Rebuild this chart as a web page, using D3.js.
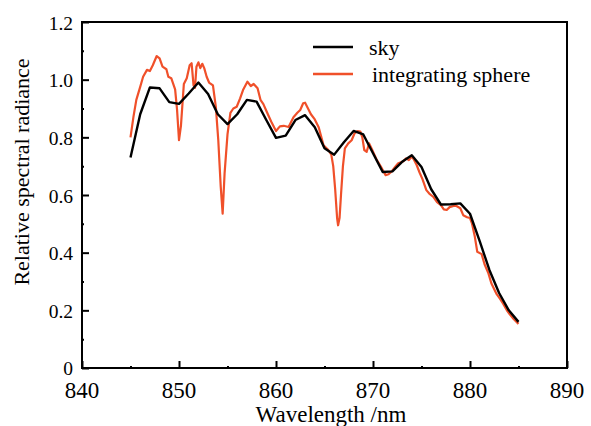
<!DOCTYPE html>
<html>
<head>
<meta charset="utf-8">
<script src="https://cdn.jsdelivr.net/npm/d3@7"></script>
<style>
  html, body { margin: 0; padding: 0; background: #fff; }
  svg { display: block; }
  text { font-family: "Liberation Serif", "DejaVu Serif", serif; fill: #000; }
</style>
</head>
<body>
<svg id="chart" width="591" height="426"></svg>
<script>
// ---- data ----
const xTicks = [840, 850, 860, 870, 880, 890];
const yTicks = [0, 0.2, 0.4, 0.6, 0.8, 1.0, 1.2];
const yTickLabels = ["0", "0.2", "0.4", "0.6", "0.8", "1.0", "1.2"];
const seriesNames = ["sky", "integrating sphere"];

const skyWavelength = [845, 846, 847, 848, 849, 850, 851, 852, 853, 854, 855, 856, 857, 858, 859, 860,
  861, 862, 863, 864, 865, 866, 867, 868, 869, 870, 871, 872, 873, 874, 875, 876, 877, 878, 879, 880,
  881, 882, 883, 884, 885];
const skyValue = [0.73, 0.88, 0.973, 0.97, 0.922, 0.916, 0.952, 0.99, 0.95, 0.88, 0.846, 0.88, 0.93, 0.924, 0.86, 0.798,
  0.806, 0.86, 0.877, 0.835, 0.762, 0.74, 0.783, 0.822, 0.81, 0.745, 0.68, 0.682, 0.715, 0.738, 0.697, 0.62, 0.567, 0.568, 0.571, 0.535,
  0.44, 0.34, 0.26, 0.2, 0.16];

const sphereWavelength = [845.0, 845.3, 845.6, 846.0, 846.3, 846.7, 847.0, 847.3, 847.7, 848.0, 848.3, 848.7, 848.9, 849.2,
  849.6, 849.8, 850.0, 850.2, 850.5, 850.8, 851.1, 851.3, 851.5, 851.65, 851.8, 852.0, 852.2, 852.4, 852.6, 852.85,
  853.1, 853.5, 853.8, 854.05, 854.3, 854.5, 854.7, 855.0, 855.3, 855.6, 855.95, 856.3, 856.6, 857.05, 857.4, 857.7,
  858.1, 858.4, 858.7, 859.0, 859.5, 860.0, 860.4, 860.8, 861.3, 861.8, 862.2, 862.5, 862.8, 863.0, 863.3, 863.6,
  864.0, 864.4, 864.9, 865.4, 865.7, 865.9, 866.1, 866.3, 866.4, 866.55, 866.7, 866.9, 867.1, 867.45, 867.8, 868.1,
  868.4, 868.7, 868.9, 869.1, 869.35, 869.6, 869.9, 870.4, 870.9, 871.3, 871.6, 871.9, 872.3, 872.6, 873.1, 873.4,
  873.7, 874.0, 874.2, 874.5, 874.8, 875.1, 875.5, 875.8, 876.2, 876.6, 877.0, 877.3, 877.6, 877.9, 878.3, 878.6,
  879.0, 879.3, 879.7, 880.0, 880.2, 880.5, 880.75, 881.2, 881.5, 881.9, 882.2, 882.75, 883.1, 883.4, 883.8, 884.1,
  884.5, 885.0];
const sphereValue = [0.80, 0.87, 0.93, 0.975, 1.01, 1.034, 1.03, 1.05, 1.082, 1.074, 1.045, 1.036, 1.01, 1.005,
  0.966, 0.895, 0.79, 0.84, 0.985, 1.005, 1.05, 1.057, 0.98, 0.972, 1.045, 1.06, 1.04, 1.055, 1.04, 1.01,
  0.99, 0.98, 0.905, 0.79, 0.63, 0.535, 0.675, 0.81, 0.885, 0.9, 0.906, 0.935, 0.964, 0.993, 0.978, 0.985,
  0.97, 0.93, 0.915, 0.892, 0.855, 0.822, 0.838, 0.84, 0.836, 0.87, 0.885, 0.895, 0.918, 0.92, 0.9, 0.88,
  0.862, 0.835, 0.772, 0.756, 0.74, 0.70, 0.62, 0.52, 0.495, 0.52, 0.6, 0.70, 0.762, 0.779, 0.79, 0.814,
  0.822, 0.82, 0.80, 0.756, 0.75, 0.779, 0.758, 0.721, 0.693, 0.669, 0.672, 0.681, 0.698, 0.71, 0.716, 0.727,
  0.721, 0.733, 0.724, 0.704, 0.678, 0.655, 0.617, 0.605, 0.594, 0.575, 0.565, 0.55, 0.548, 0.558, 0.562, 0.562,
  0.554, 0.53, 0.523, 0.52, 0.502, 0.455, 0.403, 0.395, 0.36, 0.328, 0.294, 0.256, 0.24, 0.224, 0.2, 0.186,
  0.17, 0.153];

// ---- layout ----
const mLeft = 82, mRight = 567, mTop = 22, mBottom = 368;
const svg = d3.select("#chart");

const x = d3.scaleLinear().domain([840, 890]).range([mLeft, mRight]);
const y = d3.scaleLinear().domain([0, 1.2]).range([mBottom, mTop]);

// frame
svg.append("rect")
  .attr("x", mLeft).attr("y", mTop)
  .attr("width", mRight - mLeft).attr("height", mBottom - mTop)
  .attr("fill", "none").attr("stroke", "#000").attr("stroke-width", 2);

// x axis (ticks inward)
const xAxis = d3.axisTop(x).tickValues(xTicks).tickSize(7).tickFormat("");
const gx = svg.append("g").attr("transform", `translate(0,${mBottom})`).call(xAxis);
gx.select(".domain").remove();
gx.selectAll("line").attr("stroke", "#000").attr("stroke-width", 2);
const xMinor = d3.axisTop(x).tickValues(d3.range(845, 890, 10)).tickSize(2).tickFormat("");
const gxm = svg.append("g").attr("transform", `translate(0,${mBottom})`).call(xMinor);
gxm.select(".domain").remove();
gxm.selectAll("line").attr("stroke", "#000").attr("stroke-width", 2);

svg.append("g").selectAll("text").data(xTicks).join("text")
  .attr("x", d => x(d)).attr("y", 390)
  .attr("text-anchor", "middle").attr("dominant-baseline", "central")
  .attr("font-size", 23)
  .text(d => d);

// y axis (ticks inward)
const yAxis = d3.axisRight(y).tickValues(yTicks).tickSize(7).tickFormat("");
const gy = svg.append("g").attr("transform", `translate(${mLeft},0)`).call(yAxis);
gy.select(".domain").remove();
gy.selectAll("line").attr("stroke", "#000").attr("stroke-width", 2);
const yMinor = d3.axisRight(y).tickValues([0.1, 0.3, 0.5, 0.7, 0.9, 1.1]).tickSize(2).tickFormat("");
const gym = svg.append("g").attr("transform", `translate(${mLeft},0)`).call(yMinor);
gym.select(".domain").remove();
gym.selectAll("line").attr("stroke", "#000").attr("stroke-width", 2);

svg.append("g").selectAll("text").data(yTicks).join("text")
  .attr("x", 73).attr("y", d => y(d) + (d === 0 ? 0 : 1))
  .attr("text-anchor", "end").attr("dominant-baseline", "central")
  .attr("font-size", 19.5)
  .text((d, i) => yTickLabels[i]);

// axis titles
svg.append("text")
  .attr("x", 331).attr("y", 422)
  .attr("text-anchor", "middle").attr("font-size", 23)
  .text("Wavelength /nm");
svg.append("text")
  .attr("transform", "translate(21,172) rotate(-90)")
  .attr("text-anchor", "middle").attr("dominant-baseline", "central")
  .attr("font-size", 22)
  .text("Relative spectral radiance");

// lines
const line = d3.line().x(d => x(d[0])).y(d => y(d[1]));
const skyData = skyWavelength.map((w, i) => [w, skyValue[i]]);
const sphereData = sphereWavelength.map((w, i) => [w, sphereValue[i]]);
const colors = ["#000000", "#f0502a"];

svg.append("path").datum(sphereData)
  .attr("d", line).attr("fill", "none")
  .attr("stroke", colors[1]).attr("stroke-width", 2.2).attr("stroke-linejoin", "round");
svg.append("path").datum(skyData)
  .attr("d", line).attr("fill", "none")
  .attr("stroke", colors[0]).attr("stroke-width", 2.4).attr("stroke-linejoin", "round");

// legend
const legend = svg.append("g");
const legY = [47, 74];
const legTextX = [369, 372];
seriesNames.forEach((name, i) => {
  legend.append("line")
    .attr("x1", 313).attr("x2", 353).attr("y1", legY[i]).attr("y2", legY[i])
    .attr("stroke", colors[i]).attr("stroke-width", 2.4);
  legend.append("text")
    .attr("x", legTextX[i]).attr("y", legY[i] + 8)
    .attr("font-size", 22)
    .text(name);
});
</script>
</body>
</html>
